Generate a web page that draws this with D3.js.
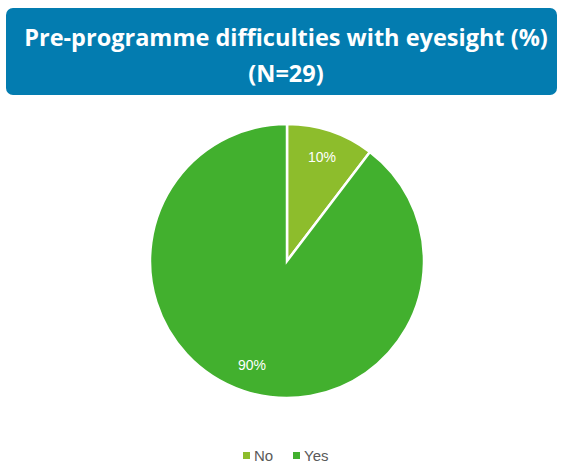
<!DOCTYPE html>
<html>
<head>
<meta charset="utf-8">
<script src="https://cdn.jsdelivr.net/npm/d3@7"></script>
<style>
  body { margin: 0; background: #fff; }
</style>
</head>
<body>
<div id="chart"></div>
<script>
const categories = ["No", "Yes"];
const counts = [3, 26];
const colors = ["#8dbd2c", "#42b02e"];
const titleLines = ["Pre-programme difficulties with eyesight (%)", "(N=29)"];

const W = 564, H = 466;
const cx = 287, cy = 261, radius = 137;

const svg = d3.select("#chart").append("svg")
    .attr("width", W)
    .attr("height", H);

// title banner
svg.append("rect")
    .attr("x", 6).attr("y", 8)
    .attr("width", 551).attr("height", 87)
    .attr("rx", 7)
    .style("fill", "#037cb0");

svg.selectAll(".title")
    .data(titleLines)
    .enter().append("text")
    .attr("class", "title")
    .attr("x", W / 2 + 4)
    .attr("y", (d, i) => 46 + i * 36)
    .attr("text-anchor", "middle")
    .style("font-family", "'Open Sans', sans-serif")
    .style("font-weight", "bold")
    .style("font-size", "23.5px")
    .style("fill", "#fff")
    .text(d => d);

// pie
const data = categories.map((c, i) => ({ name: c, value: counts[i], color: colors[i] }));
const total = d3.sum(counts);

const pie = d3.pie().sort(null).value(d => d.value);
const arc = d3.arc().innerRadius(0).outerRadius(radius);
const labelArc = d3.arc().innerRadius(radius * 0.8).outerRadius(radius * 0.8);

const g = svg.append("g")
    .attr("transform", `translate(${cx},${cy})`);

g.selectAll(".slice")
    .data(pie(data))
    .enter().append("path")
    .attr("class", "slice")
    .attr("d", arc)
    .style("fill", d => d.data.color)
    .style("stroke", "#fff")
    .style("stroke-width", 2.5);

g.selectAll(".label")
    .data(pie(data))
    .enter().append("text")
    .attr("class", "label")
    .attr("transform", d => `translate(${labelArc.centroid(d)})`)
    .attr("text-anchor", "middle")
    .attr("dy", "0.35em")
    .style("font-family", "'Liberation Sans', Arial, sans-serif")
    .style("font-size", "14px")
    .style("fill", "#fff")
    .text(d => Math.round(d.data.value / total * 100) + "%");

// legend
const legendX = [243, 293];
const legend = svg.selectAll(".legend")
    .data(data)
    .enter().append("g")
    .attr("class", "legend")
    .attr("transform", (d, i) => `translate(${legendX[i]},456)`);

legend.append("rect")
    .attr("x", 0).attr("y", -4)
    .attr("width", 7).attr("height", 7)
    .style("fill", d => d.color);

legend.append("text")
    .attr("x", 11)
    .attr("dy", "0.35em")
    .style("font-family", "'Liberation Sans', Arial, sans-serif")
    .style("font-size", "15px")
    .style("fill", "#595959")
    .text(d => d.name);
</script>
</body>
</html>
